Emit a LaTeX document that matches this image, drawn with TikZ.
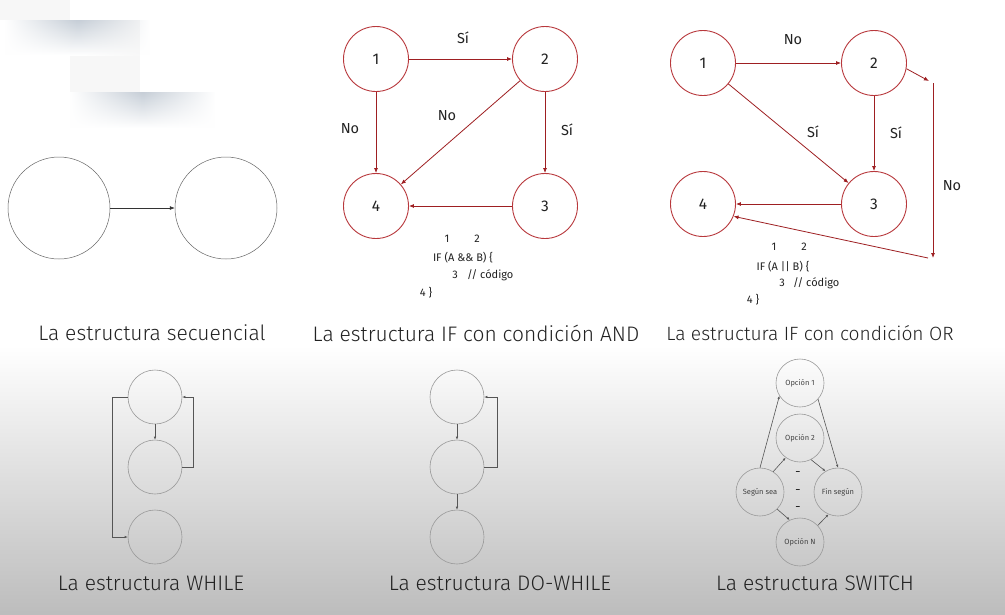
\documentclass[tikz,border=0pt]{standalone}
\usepackage{fontspec}
\setmainfont{Fira Sans}[UprightFont={* Light}]
\newfontfamily\regfont{Fira Sans}
\usetikzlibrary{arrows.meta,fadings}
\definecolor{redc}{HTML}{B8383C}
\definecolor{reda}{HTML}{9E1F22}
\definecolor{txt}{HTML}{222222}
\definecolor{grc}{HTML}{9A9A9A}
\definecolor{gra}{HTML}{555555}
\definecolor{shadowc}{HTML}{C6CED7}
\tikzfading[name=fadesides,left color=transparent!100,right color=transparent!100,middle color=transparent!0]
\tikzset{
  seqc/.style={circle,draw=black!60,line width=0.5pt,minimum size=102pt,inner sep=0pt},
  seqarr/.style={draw=black!80,line width=0.6pt,-{Latex[length=5pt,width=4pt]}},
  redcirc/.style={circle,draw=redc,line width=0.9pt,minimum size=65pt,inner sep=0pt,font=\regfont\fontsize{15.5}{17}\selectfont,text=txt},
  redarr/.style={draw=reda,line width=0.8pt,-{Latex[length=5pt,width=4pt]}},
  lbl/.style={font=\regfont\fontsize{14.5}{16}\selectfont,text=txt,inner sep=0pt},
  code/.style={font=\regfont\fontsize{11}{13}\selectfont,text=txt,inner sep=0pt},
  title/.style={font=\fontsize{21}{24}\selectfont,text=txt,inner sep=0pt},
  grcirc/.style={circle,draw=grc,line width=0.6pt,minimum size=54pt,inner sep=0pt},
  grarr/.style={draw=gra,line width=0.6pt,-{Latex[length=3pt,width=2.5pt]}},
  swcirc/.style={circle,draw=grc,line width=0.6pt,minimum size=48pt,inner sep=0pt,font=\regfont\fontsize{7.5}{9}\selectfont,text=txt!85},
  swarr/.style={draw=gra,line width=0.6pt,-{Latex[length=3pt,width=2.5pt]}},
  dashmark/.style={font=\regfont\bfseries\fontsize{8}{9}\selectfont,text=txt,inner sep=0pt},
  shadowband/.style={top color=shadowc,bottom color=white,path fading=fadesides},
}
\begin{document}
\begin{tikzpicture}[x=1pt,y=-1pt]
\useasboundingbox (0,0) rectangle (1005,614);
\fill[white] (0,0) rectangle (1005,614);
\shade[top color=white,bottom color=black!26] (0,345) rectangle (1005,614);
% faint decorative shadows (top left)
\fill[black!3] (0,0) rectangle (70,20);
\fill[black!3] (70,20) rectangle (140,92);
\shade[shadowband] (5,20) rectangle (150,55);
\shade[shadowband] (70,92) rectangle (215,128);

% Sequential
\node[seqc] (s1) at (59,208) {};
\node[seqc] (s2) at (226,208) {};
\draw[seqarr] (s1) -- (s2);
\node[title] (t1) at (152,333) {La estructura secuencial};

% AND
\node[redcirc] (a1) at (376,59) {1};
\node[redcirc] (a2) at (545,59) {2};
\node[redcirc] (a3) at (545,206) {3};
\node[redcirc] (a4) at (376,206) {4};
\draw[redarr] (a1) -- (a2);
\draw[redarr] (a1) -- (a4);
\draw[redarr] (a2) -- (a4);
\draw[redarr] (a2) -- (a3);
\draw[redarr] (a3) -- (a4);
\node[lbl] (la1) at (463,38) {Sí};
\node[lbl] (la2) at (350,129) {No};
\node[lbl] (la3) at (447,116) {No};
\node[lbl] (la4) at (567,130) {Sí};
\node[code] (ca1) at (447,239) {1};
\node[code] (ca2) at (477,239) {2};
\node[code] (ca3) at (463,258) {IF (A \&\& B) \{};
\node[code] (ca4) at (455,275) {3};
\node[code,anchor=west] (ca5) at (467,275) {// código};
\node[code] (ca6) at (426,293) {4 \}};
\node[title] (t2) at (476,333) {La estructura IF con condición AND};

% OR
\node[redcirc] (o1) at (703,63) {1};
\node[redcirc] (o2) at (874,63) {2};
\node[redcirc] (o3) at (874,204) {3};
\node[redcirc] (o4) at (703,204) {4};
\coordinate (c1) at (929,81);
\coordinate (c2) at (933,83);
\coordinate (c3) at (933,258);
\coordinate (c4) at (928,258);
\draw[redarr] (o1) -- (o2);
\draw[redarr] (o1) -- (o3);
\draw[redarr] (o2) -- (o3);
\draw[redarr] (o3) -- (o4);
\draw[redarr] (o2.-10) -- (c1);
\draw[redarr] (c2) -- (c3);
\draw[redarr] (c4) -- (o4.-22);
\node[lbl] (lo1) at (793,40) {No};
\node[lbl] (lo2) at (813,132) {Sí};
\node[lbl] (lo3) at (896,133) {Sí};
\node[lbl] (lo4) at (952,186) {No};
\node[code] (co1) at (774,247) {1};
\node[code] (co2) at (804,247) {2};
\node[code] (co3) at (783,267) {IF (A || B) \{};
\node[code] (co4) at (782,283) {3};
\node[code,anchor=west] (co5) at (793,283) {// código};
\node[code] (co6) at (753,300) {4 \}};
\node[title,font=\fontsize{19.2}{22}\selectfont] (t3) at (810,333) {La estructura IF con condición OR};

% WHILE
\node[grcirc] (w1) at (155,397) {};
\node[grcirc] (w2) at (155,467) {};
\node[grcirc] (w3) at (155,537) {};
\draw[grarr] (w1) -- (w2);
\draw[grarr] (w2.east) -- ++(11,0) |- (w1.east);
\draw[grarr] (w1.west) -- ++(-15,0) |- (w3.west);
\node[title] (t4) at (151,583) {La estructura WHILE};

% DO-WHILE
\node[grcirc] (d1) at (457,397) {};
\node[grcirc] (d2) at (457,467) {};
\node[grcirc] (d3) at (457,537) {};
\draw[grarr] (d1) -- (d2);
\draw[grarr] (d2) -- (d3);
\draw[grarr] (d2.east) -- ++(13,0) |- (d1.east);
\node[title] (t5) at (500,583) {La estructura DO-WHILE};

% SWITCH
\node[swcirc] (sw1) at (800,383) {Opción 1};
\node[swcirc] (sw2) at (800,438) {Opción 2};
\node[swcirc] (ss) at (760,492) {Según sea};
\node[swcirc] (fs) at (838,492) {Fin según};
\node[swcirc] (sn) at (800,542) {Opción N};
\draw[swarr] (ss.north) -- (sw1.212);
\draw[swarr] (ss.57) -- (sw2.234);
\draw[swarr] (sw1.-42) -- (fs.north);
\draw[swarr] (sw2.-63) -- (fs.121);
\draw[swarr] (ss.-45) -- (sn.115);
\draw[swarr] (sn.43) -- (fs.-113);
\node[dashmark] (dd1) at (798,473) {–};
\node[dashmark] (dd2) at (798,491) {–};
\node[dashmark] (dd3) at (798,508) {–};
\node[title] (t6) at (815,583) {La estructura SWITCH};
\end{tikzpicture}
\end{document}
